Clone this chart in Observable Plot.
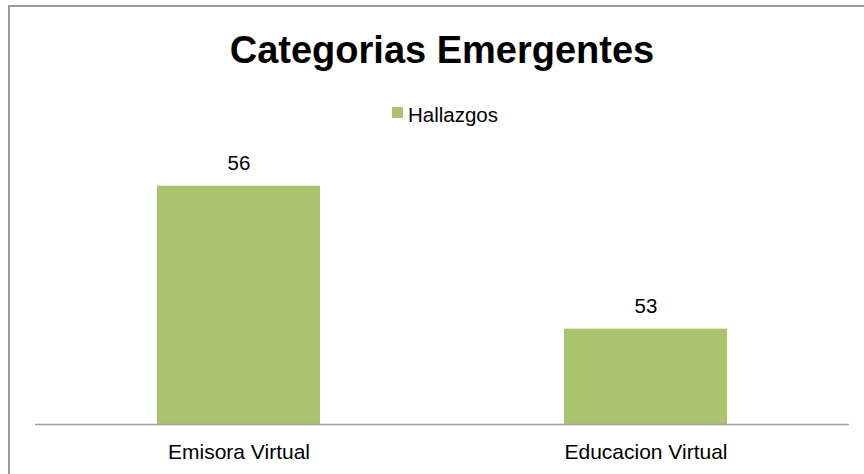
<!DOCTYPE html>
<html>
<head>
<meta charset="utf-8">
<script src="https://cdn.jsdelivr.net/npm/d3@7"></script>
<script src="https://cdn.jsdelivr.net/npm/@observablehq/plot@0.6"></script>
<style>
  html, body { margin: 0; padding: 0; background: #fff; }
  #wrap { position: relative; width: 864px; height: 474px; overflow: hidden; font-family: "Liberation Sans", Arial, sans-serif; }
  #frame { position: absolute; left: 8px; top: 5px; width: 900px; height: 500px; border: 2px solid #9a9a9a; box-sizing: border-box; }
  #title { position: absolute; left: 10px; width: 864px; top: 31px; text-align: center; font-size: 38px; line-height: 38px; font-weight: bold; color: #000; }
  #legsw { position: absolute; left: 392px; top: 107px; width: 11px; height: 11px; background: #aac46e; }
  #legtx { position: absolute; left: 408px; top: 105px; font-size: 20.5px; line-height: 20.5px; color: #000; }
  #chart { position: absolute; left: 0; top: 0; }
</style>
</head>
<body>
<div id="wrap">
  <div id="frame"></div>
  <div id="title"></div>
  <div id="legsw"></div>
  <div id="legtx"></div>
  <div id="chart"></div>
</div>
<script>
const title = "Categorias Emergentes";
const seriesName = "Hallazgos";
const categories = ["Emisora Virtual", "Educacion Virtual"];
const values = [56, 53];
const yMin = 51;
const yMax = 57;

document.getElementById("title").textContent = title;
document.getElementById("legtx").textContent = seriesName;

const data = categories.map((c, i) => ({category: c, value: values[i]}));

const chart = Plot.plot({
  width: 864,
  height: 474,
  marginTop: 138,
  marginBottom: 50,
  marginLeft: 35,
  marginRight: 15,
  style: {fontFamily: "Liberation Sans, Arial, sans-serif", background: "transparent", color: "#000"},
  x: {domain: categories, paddingInner: 0.6, paddingOuter: 0.3, label: null},
  y: {domain: [yMin, yMax], axis: null},
  marks: [
    Plot.barY(data, {x: "category", y1: () => yMin, y2: "value", fill: "#aac46e"}),
    Plot.ruleY([yMin], {stroke: "#a0a0a0", strokeWidth: 1.5}),
    Plot.text(data, {x: "category", y: "value", text: d => String(d.value), lineAnchor: "bottom", dy: -16, fontSize: 20.5, fill: "#000"}),
    Plot.axisX({tickSize: 0, tickPadding: 20, fontSize: 21, label: null, fill: "#000"})
  ]
});
document.getElementById("chart").appendChild(chart);
</script>
</body>
</html>
